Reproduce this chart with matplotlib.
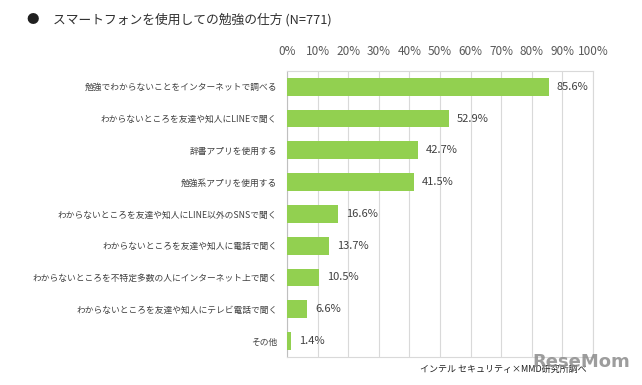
import numpy as np
from matplotlib import pyplot as plt

plt.rcParams['font.family'] = ['Noto Sans CJK JP', 'DejaVu Sans']

labels = [
    '勉強でわからないことをインターネットで調べる',
    'わからないところを友達や知人にLINEで聞く',
    '辞書アプリを使用する',
    '勉強系アプリを使用する',
    'わからないところを友達や知人にLINE以外のSNSで聞く',
    'わからないところを友達や知人に電話で聞く',
    'わからないところを不特定多数の人にインターネット上で聞く',
    'わからないところを友達や知人にテレビ電話で聞く',
    'その他',
]
values = [85.6, 52.9, 42.7, 41.5, 16.6, 13.7, 10.5, 6.6, 1.4]
ticks = [0, 10, 20, 30, 40, 50, 60, 70, 80, 90, 100]
tick_labels = ['%d%%' % t for t in ticks]

title = 'スマートフォンを使用しての勉強の仕方 (N=771)'
source = 'インテル セキュリティ×MMD研究所調べ'

text_color = '#404040'
grid_color = '#d9d9d9'

fig = plt.figure(figsize=(6.42, 3.85), dpi=100)
ax = fig.add_axes([0.447, 0.073, 0.4766, 0.743])

y = np.arange(len(labels))
ax.barh(y, values, height=0.56, color='#92d050', zorder=3)

ax.set_xlim(0, 100)
ax.set_ylim(len(labels) - 0.5, -0.5)
ax.set_xticks(ticks)
ax.set_xticklabels(tick_labels)
ax.xaxis.tick_top()
ax.set_yticks(y)
ax.set_yticklabels(labels)
ax.tick_params(axis='x', length=0, pad=9, labelsize=8.5, colors='#595959')
ax.tick_params(axis='y', length=0, pad=7, labelsize=6.3, colors=text_color)
ax.xaxis.grid(True, color=grid_color, linewidth=0.8, zorder=0)

for s in ax.spines.values():
    s.set_color(grid_color)
    s.set_linewidth(0.8)
ax.spines['left'].set_color('#bfbfbf')

for yi, v in zip(y, values):
    ax.text(v + 2.6, yi, '%.1f%%' % v, va='center', ha='left',
            fontsize=8, color=text_color, zorder=4)

fig.text(33 / 642, 1 - 20 / 385, '●', fontsize=9, color='#202020',
         ha='center', va='center')
fig.text(53 / 642, 1 - 20 / 385, title, fontsize=9.2, color='#303030',
         ha='left', va='center')
fig.text(420 / 642, 1 - 369 / 385, source, fontsize=6.5, color='#202020',
         ha='left', va='center')
fig.text(630 / 642, 1 - 362 / 385, 'ReseMom', fontsize=13, fontweight='bold',
         color='#8c8c8c', alpha=0.85, ha='right', va='center',
         family='DejaVu Sans')

plt.savefig('out.png', dpi=100)
